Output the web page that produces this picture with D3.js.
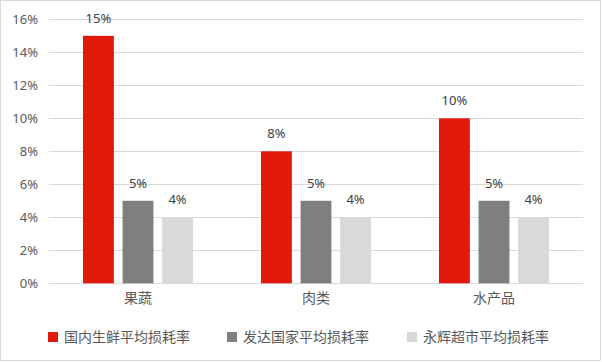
<!DOCTYPE html>
<html><head><meta charset="utf-8">
<script src="https://cdn.jsdelivr.net/npm/d3@7"></script>
<style>body{margin:0;background:#fff}svg{display:block}text{font-family:"Noto Sans CJK SC","Noto Sans",sans-serif}</style>
</head><body>
<svg id="c" width="602" height="362"></svg>
<script>
const categories = ["果蔬", "肉类", "水产品"];
const seriesNames = ["国内生鲜平均损耗率", "发达国家平均损耗率", "永辉超市平均损耗率"];
const domestic = [15, 8, 10];
const developed = [5, 5, 5];
const yonghui = [4, 4, 4];
const yTicks = [0, 2, 4, 6, 8, 10, 12, 14, 16];
const colors = ["#E3190B", "#7F7F7F", "#D9D9D9"];

const series = [domestic, developed, yonghui];
const svg = d3.select("#c");
svg.append("rect").attr("x",0.5).attr("y",0.5).attr("width",600).attr("height",360)
  .attr("fill","#fff").attr("stroke","#D9D9D9");

const m = {l:49, r:583, t:19.3, b:283.3};
const x = d3.scaleBand().domain(categories).range([m.l, m.r]);
const y = d3.scaleLinear().domain([0,16]).range([m.b, m.t]);
const inner = d3.scaleBand().domain([0,1,2]).range([0,110]).paddingInner(0.22);

// gridlines
svg.append("g").selectAll("line").data(yTicks).join("line")
  .attr("x1",m.l).attr("x2",m.r).attr("y1",d=>Math.round(y(d))+0.5).attr("y2",d=>Math.round(y(d))+0.5)
  .attr("stroke","#D9D9D9").attr("stroke-width",1);

// y axis labels
const ya = svg.append("g").attr("transform",`translate(${m.l},0)`)
  .call(d3.axisLeft(y).tickValues(yTicks).tickFormat(d=>d+"%").tickSize(0).tickPadding(11));
ya.select(".domain").remove();
ya.selectAll("text").attr("fill","#595959").style("font-size","13px").style("font-family","'Noto Sans','Noto Sans CJK SC',sans-serif");

// bars
series.forEach((vals,si)=>{
  const g = svg.append("g");
  g.selectAll("rect").data(vals).join("rect")
    .attr("x",(d,i)=>x(categories[i]) + (x.bandwidth()-110)/2 + inner(si))
    .attr("width",inner.bandwidth())
    .attr("y",d=>y(d)).attr("height",d=>m.b-y(d))
    .attr("fill",colors[si]);
  g.selectAll("text").data(vals).join("text")
    .attr("x",(d,i)=>x(categories[i]) + (x.bandwidth()-110)/2 + inner(si) + inner.bandwidth()/2)
    .attr("y",d=>y(d)-13)
    .attr("text-anchor","middle").attr("fill","#404040")
    .style("font-size","13px").style("font-family","'Noto Sans',sans-serif")
    .text(d=>d+"%");
});

// x axis labels
const xa = svg.append("g").attr("transform",`translate(0,${m.b})`)
  .call(d3.axisBottom(x).tickSize(0).tickPadding(10));
xa.select(".domain").remove();
xa.selectAll("text").attr("fill","#595959").style("font-size","14px").style("font-family","'Noto Sans CJK SC',sans-serif");

// legend
const legX = [48, 227, 407];
const lg = svg.append("g").selectAll("g").data(seriesNames).join("g")
  .attr("transform",(d,i)=>`translate(${legX[i]},332)`);
lg.append("rect").attr("width",10).attr("height",10).attr("fill",(d,i)=>colors[i]);
lg.append("text").attr("x",16).attr("y",10).attr("fill","#595959")
  .style("font-size","14px").text(d=>d);
</script>
</body></html>
